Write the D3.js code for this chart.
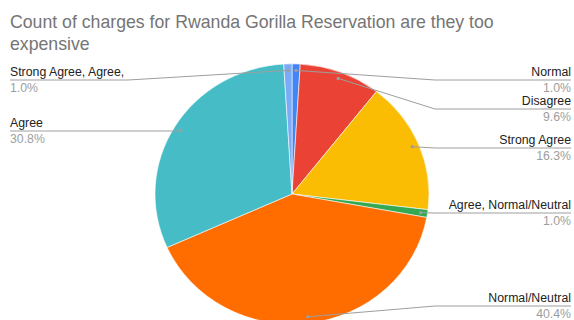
<!DOCTYPE html>
<html>
<head>
<meta charset="utf-8">
<script src="https://cdn.jsdelivr.net/npm/d3@7"></script>
<style>
  body { margin: 0; background: #fff; }
  svg { display: block; font-family: "Liberation Sans", Arial, sans-serif; }
</style>
</head>
<body>
<div id="chart"></div>
<script>
// chart data (counts per answer, clockwise from 12 o'clock)
const categories = ["Normal", "Disagree", "Strong Agree", "Agree, Normal/Neutral",
  "Normal/Neutral", "Agree", "Strong Agree, Agree,"];
const counts = [1, 10, 17, 1, 42, 32, 1];
const colors = ["#4285f4", "#ea4335", "#fbbc04", "#34a853", "#ff6d01", "#46bdc6", "#7baaf7"];

// layout of the labels
const labelSide = ["right", "right", "right", "right", "right", "left", "left"];
const labelLineY = [80, 109, 148, 213, 306, 131, 80];

const width = 574;
const height = 320;
const cx = 292, cy = 194;
const radius = 137;
const squash = 0.95; // the pie is drawn a bit flattened
const leftElbow = 128, rightElbow = 435;

const svg = d3.select("#chart")
  .append("svg")
  .attr("width", width)
  .attr("height", height);

// title
svg.append("text")
  .attr("x", 10)
  .attr("y", 28)
  .style("font-size", "17.7px")
  .style("fill", "#757575")
  .text("Count of charges for Rwanda Gorilla Reservation are they too");
svg.append("text")
  .attr("x", 10)
  .attr("y", 50)
  .style("font-size", "17.7px")
  .style("fill", "#757575")
  .text("expensive");

const pie = d3.pie().sort(null).value((d) => d);
const arcs = pie(counts);
const total = d3.sum(counts);
const fmt = d3.format(".1%");

const arc = d3.arc().innerRadius(0).outerRadius(radius);

svg.append("g")
  .attr("transform", `translate(${cx}, ${cy}) scale(1, ${squash})`)
  .selectAll("path")
  .data(arcs)
  .join("path")
  .attr("d", arc)
  .style("fill", (d, i) => colors[i])
  .style("stroke", "#fff")
  .style("stroke-width", 0.6);

// anchor point on each slice for the leader line
function anchor(d) {
  const a = (d.startAngle + d.endAngle) / 2;
  const r = radius * 0.95;
  return [cx + Math.sin(a) * r, cy - Math.cos(a) * r * squash];
}

const labels = svg.append("g");

arcs.forEach(function (d, i) {
  const [ax, ay] = anchor(d);
  const ly = labelLineY[i];
  let pts;
  if (labelSide[i] == "right") {
    pts = [[ax, ay], [rightElbow, ly], [571, ly]];
  } else {
    pts = Math.abs(ay - ly) < 2 ? [[ax, ly], [10, ly]] : [[ax, ay], [leftElbow, ly], [10, ly]];
  }
  labels.append("path")
    .attr("d", d3.line()(pts))
    .style("fill", "none")
    .style("stroke", "#9e9e9e")
    .style("stroke-width", 1);

  labels.append("circle")
    .attr("cx", ax)
    .attr("cy", ay)
    .attr("r", 1.6)
    .style("fill", "#9e9e9e");

  const tx = labelSide[i] == "right" ? 571 : 10;
  const anchorText = labelSide[i] == "right" ? "end" : "start";
  labels.append("text")
    .attr("x", tx)
    .attr("y", ly - 4)
    .style("text-anchor", anchorText)
    .style("font-size", "12.3px")
    .style("fill", "#222")
    .text(categories[i]);
  labels.append("text")
    .attr("x", tx)
    .attr("y", ly + 11.5)
    .style("text-anchor", anchorText)
    .style("font-size", "12.3px")
    .style("fill", "#9e9e9e")
    .text(fmt(counts[i] / total));
});
</script>
</body>
</html>
